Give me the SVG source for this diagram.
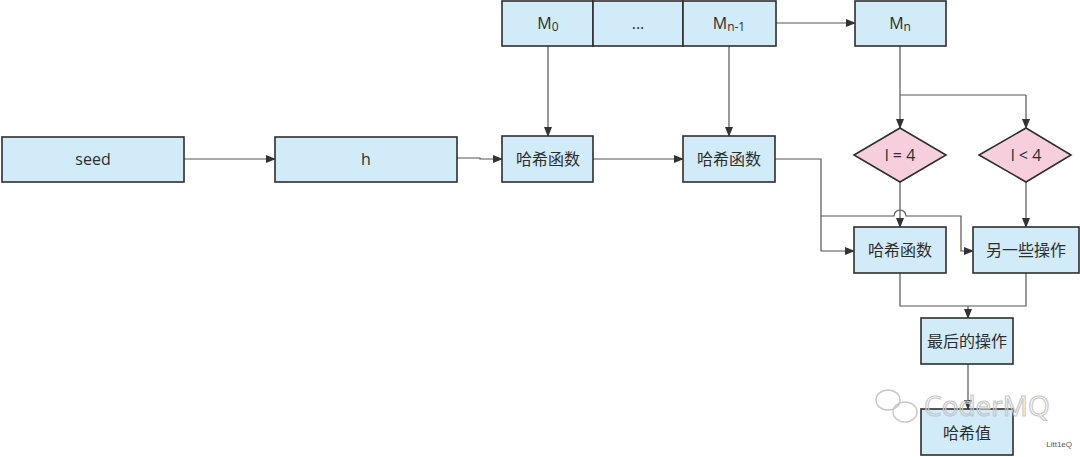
<svg xmlns="http://www.w3.org/2000/svg" width="1080" height="457" viewBox="0 0 1080 457">
<defs>
<marker id="ar" viewBox="0 0 10 10" refX="9" refY="5" markerWidth="10" markerHeight="10" markerUnits="userSpaceOnUse" orient="auto">
<path d="M0,1 L10,5 L0,9 Z" fill="#333"/>
</marker>
<style>
.box{fill:#d1ecf8;stroke:#2e2e2e;stroke-width:1.6}
.dia{fill:#f7cfdc;stroke:#2e2e2e;stroke-width:1.6}
.t{font-family:"Open Sans","Noto Sans CJK SC",sans-serif;font-size:16px;fill:#2e2e2e;text-anchor:middle;dominant-baseline:central}
.c{fill:none;stroke:#555;stroke-width:1.2}
.ca{fill:none;stroke:#555;stroke-width:1.2;marker-end:url(#ar)}
</style>
</defs>
<rect width="1080" height="457" fill="#fff"/>
<g id="connectors">
<path class="ca" d="M184,159 L275,159"/>
<path class="ca" d="M457,158 L480,158 L480,159 L502,159"/>
<path class="ca" d="M593,159 L683,159"/>
<path class="ca" d="M776,23 L855,23"/>
<path class="ca" d="M548,46 L548,136"/>
<path class="ca" d="M729,46 L729,136"/>
<path class="ca" d="M900,46 L900,128"/>
<path class="c" d="M900,95 L1026,95"/>
<path class="ca" d="M1026,95 L1026,128"/>
<path class="ca" d="M900,182 L900,227"/>
<path class="ca" d="M1026,182 L1026,227"/>
<path class="ca" d="M775,159 L821,159 L821,251 L854,251"/>
<path class="ca" d="M821,216 L894,216 A6,6 0 0 1 906,216 L961,216 L961,251 L973,251"/>
<path class="c" d="M900,273 L900,306 L1026,306 L1026,273"/>
<path class="ca" d="M968,306 L968,318"/>
<path class="ca" d="M968,364 L968,409"/>
</g>
<g id="n-seed"><rect class="box" x="2" y="137" width="182" height="45"/><text class="t" x="93" y="159">seed</text></g>
<g id="n-h"><rect class="box" x="275" y="137" width="182" height="45"/><text class="t" x="366" y="159">h</text></g>
<g id="n-m0"><rect class="box" x="502" y="1" width="91" height="45"/><text class="t" x="548" y="23">M<tspan font-size="12" dy="3">0</tspan></text></g>
<g id="n-dots"><rect class="box" x="593" y="1" width="90" height="45"/><text class="t" x="638" y="23">...</text></g>
<g id="n-mn1"><rect class="box" x="683" y="1" width="93" height="45"/><text class="t" x="729" y="23">M<tspan font-size="12" dy="3">n-1</tspan></text></g>
<g id="n-mn"><rect class="box" x="855" y="1" width="91" height="45"/><text class="t" x="900" y="23">M<tspan font-size="12" dy="3">n</tspan></text></g>
<g id="n-hash1"><rect class="box" x="502" y="136" width="91" height="46"/><text class="t" x="548" y="159">哈希函数</text></g>
<g id="n-hash2"><rect class="box" x="683" y="136" width="92" height="46"/><text class="t" x="729" y="159">哈希函数</text></g>
<g id="n-eq4"><path class="dia" d="M900,128 L946,155 L900,182 L854,155 Z"/><text class="t" x="900" y="155">l = 4</text></g>
<g id="n-lt4"><path class="dia" d="M1026,128 L1071,155 L1026,182 L979,155 Z"/><text class="t" x="1026" y="155">l &lt; 4</text></g>
<g id="n-hash3"><rect class="box" x="854" y="227" width="92" height="46"/><text class="t" x="900" y="250">哈希函数</text></g>
<g id="n-other"><rect class="box" x="973" y="227" width="106" height="46"/><text class="t" x="1026" y="250">另一些操作</text></g>
<g id="n-final"><rect class="box" x="921" y="318" width="92" height="46"/><text class="t" x="967" y="341">最后的操作</text></g>
<g id="n-value"><rect class="box" x="921" y="409" width="92" height="46"/><text class="t" x="967" y="433">哈希值</text></g>
<g id="watermark">
<text x="924" y="416" font-family="'Open Sans',sans-serif" font-size="28" fill="none" stroke="#c8c8c8" stroke-width="1.2">CoderMQ</text>
<ellipse cx="888" cy="400" rx="12" ry="10" fill="none" stroke="#c8c8c8" stroke-width="1.5"/>
<ellipse cx="905" cy="412" rx="12" ry="10" fill="none" stroke="#c8c8c8" stroke-width="1.5"/>
<text x="1072" y="447" font-family="'Liberation Sans',sans-serif" font-size="8" fill="#555" text-anchor="end">Litt1eQ</text>
</g>
</svg>
